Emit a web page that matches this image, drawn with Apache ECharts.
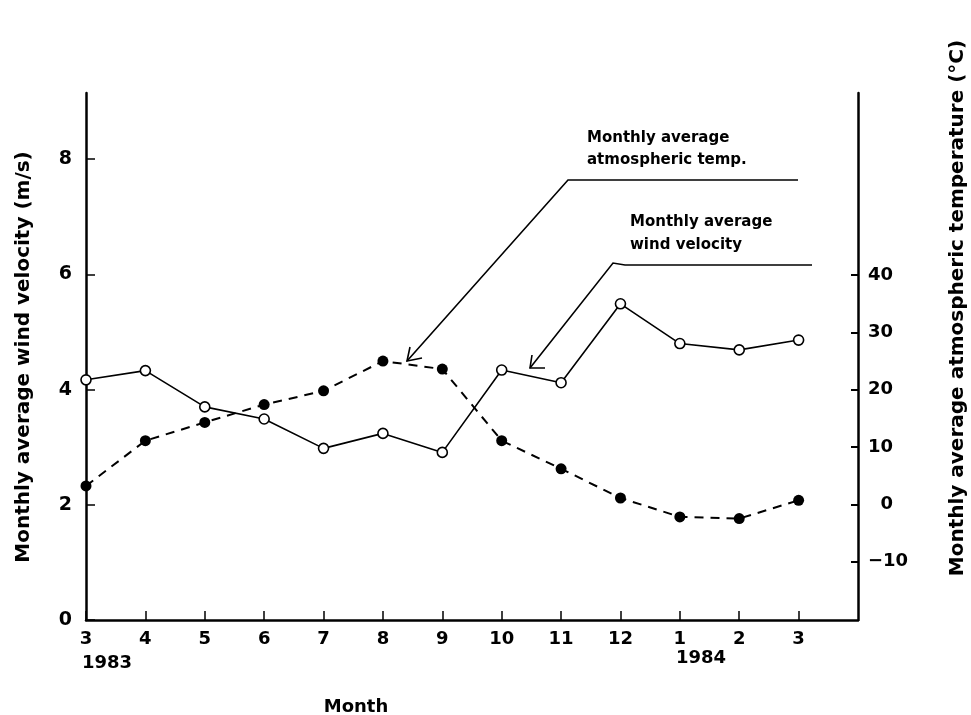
<!DOCTYPE html>
<html>
<head>
<meta charset="utf-8">
<script src="https://cdn.jsdelivr.net/npm/echarts@6/dist/echarts.min.js"></script>
<style>
html, body { margin: 0; padding: 0; background: #fff; }
#chart { width: 971px; height: 715px; }
</style>
</head>
<body>
<div id="chart"></div>
<script>
// month labels, 3/1983 .. 3/1984
const months = ['3', '4', '5', '6', '7', '8', '9', '10', '11', '12', '1', '2', '3']
// monthly average wind velocity (m/s), open circles
const windVelocity = [4.17, 4.33, 3.70, 3.49, 2.98, 3.24, 2.91, 4.34, 4.12, 5.49, 4.80, 4.69, 4.86]
// monthly average atmospheric temperature (°C), filled dots
const airTemp = [3.2, 11.1, 14.3, 17.4, 19.8, 25.0, 23.6, 11.1, 6.2, 1.1, -2.2, -2.5, 0.7]
const windTicks = [0, 2, 4, 6, 8]
const tempTicks = [-10, 0, 10, 20, 30, 40]
const monthTicks = months.map((m, i) => i)

const font = 'DejaVu Sans'
const black = '#000'

const chart = echarts.init(document.getElementById('chart'))

const arrowLine = (points) => ({
  type: 'polyline',
  shape: { points: points },
  style: { stroke: black, lineWidth: 1.6, fill: null },
  silent: true
})
const label = (x, y, text, size, extra) => ({
  type: 'text',
  x: x,
  y: y,
  style: Object.assign({
    text: text,
    font: 'bold ' + size + 'px "' + font + '"',
    fill: black,
    textAlign: 'left',
    textVerticalAlign: 'middle'
  }, extra || {}),
  silent: true
})

chart.setOption({
  animation: false,
  backgroundColor: '#fff',
  grid: { left: 86, right: 113, top: 93, bottom: 95 },
  xAxis: {
    type: 'value',
    min: 0,
    max: 13,
    axisLine: { lineStyle: { color: black, width: 2.5 } },
    axisTick: { inside: true, length: 9, customValues: monthTicks, lineStyle: { color: black, width: 1.5 } },
    axisLabel: {
      customValues: monthTicks,
      formatter: v => months[v],
      color: black,
      fontFamily: font,
      fontWeight: 'bold',
      fontSize: 18,
      margin: 10
    },
    splitLine: { show: false }
  },
  yAxis: [
    {
      type: 'value',
      position: 'left',
      min: 0,
      max: 9.15,
      axisLine: { show: true, lineStyle: { color: black, width: 2.5 } },
      axisTick: { show: true, inside: true, length: 9, customValues: windTicks, lineStyle: { color: black, width: 1.5 } },
      axisLabel: {
        customValues: windTicks,
        color: black,
        fontFamily: font,
        fontWeight: 'bold',
        fontSize: 19,
        margin: 14
      },
      splitLine: { show: false }
    },
    {
      type: 'value',
      position: 'right',
      min: -20.2,
      max: 71.8,
      axisLine: { show: true, lineStyle: { color: black, width: 2.5 } },
      axisTick: { show: true, inside: true, length: 7, customValues: tempTicks, lineStyle: { color: black, width: 2 } },
      axisLabel: {
        customValues: tempTicks,
        formatter: v => v === 0 ? '  0' : (v < 0 ? '\u2212' + Math.abs(v) : String(v)),
        color: black,
        fontFamily: font,
        fontWeight: 'bold',
        fontSize: 18,
        margin: 10
      },
      splitLine: { show: false }
    }
  ],
  series: [
    {
      name: 'Monthly average wind velocity',
      type: 'line',
      yAxisIndex: 0,
      data: windVelocity.map((v, i) => [i, v]),
      symbol: 'circle',
      symbolSize: 10,
      itemStyle: { color: '#fff', borderColor: black, borderWidth: 1.6 },
      lineStyle: { color: black, width: 1.6 },
      z: 3
    },
    {
      name: 'Monthly average atmospheric temp.',
      type: 'line',
      yAxisIndex: 1,
      data: airTemp.map((v, i) => [i, v]),
      symbol: 'circle',
      symbolSize: 11,
      itemStyle: { color: black },
      lineStyle: { color: black, width: 2, type: [9, 7] },
      z: 2
    }
  ],
  graphic: [
    // axis titles (rotated, read bottom to top)
    label(24, 357, 'Monthly average wind velocity (m/s)', 20, { textAlign: 'center' }),
    label(958, 308, 'Monthly average atmospheric temperature (°C)', 20, { textAlign: 'center' }),
    label(356, 707, 'Month', 18, { textAlign: 'center' }),
    label(82, 663, '1983', 18),
    label(676, 658, '1984', 18),
    // annotations
    label(587, 138, 'Monthly average', 15),
    label(587, 160, 'atmospheric temp.', 15),
    label(630, 222, 'Monthly average', 15),
    label(630, 245, 'wind velocity', 15),
    arrowLine([[798, 180], [568, 180], [407, 361]]),
    arrowLine([[410, 347], [407, 361], [422, 358]]),
    arrowLine([[812, 265], [625, 265], [613, 263], [530, 368]]),
    arrowLine([[532, 355], [530, 368], [545, 368]])
  ].map((g, i) => {
    if (i < 2) g.rotation = Math.PI / 2
    return g
  })
})
</script>
</body>
</html>
